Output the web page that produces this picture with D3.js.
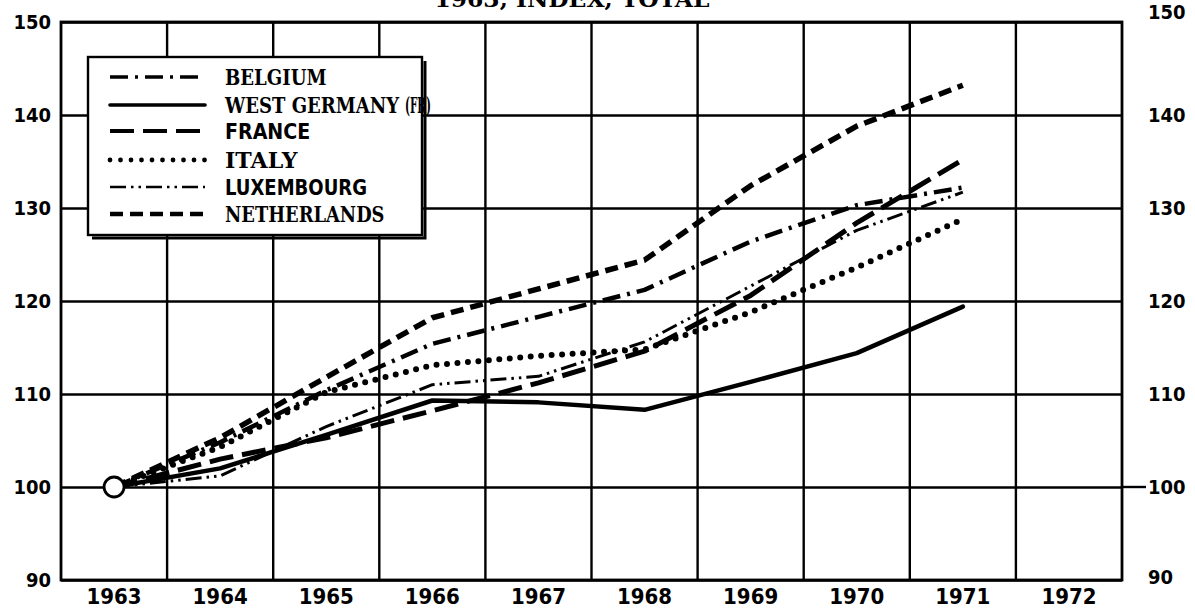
<!DOCTYPE html>
<html>
<head>
<meta charset="utf-8">
<script src="https://cdn.jsdelivr.net/npm/d3@7"></script>
<style>
    body { margin: 0; background: #fff; }
    svg { display: block; }
</style>
</head>
<body>
<svg id="chart" width="1195" height="611"></svg>
<script>
    // columns of the grid (one per year) and the years that carry data
    var years = [1963, 1964, 1965, 1966, 1967, 1968, 1969, 1970, 1971, 1972];
    var dataYears = [1963, 1964, 1965, 1966, 1967, 1968, 1969, 1970, 1971];

    // index values, 1963 = 100
    var belgium     = [100, 104.8, 110.4, 115.4, 118.3, 121.2, 126.4, 130.3, 132.2];
    var westGermany = [100, 102.0, 105.6, 109.3, 109.1, 108.3, 111.3, 114.4, 119.4];
    var france      = [100, 103.0, 105.3, 108.2, 111.2, 114.6, 120.6, 128.4, 135.2];
    var italy       = [100, 104.3, 110.2, 113.1, 114.1, 114.8, 118.8, 123.6, 128.8];
    var luxembourg  = [100, 101.2, 106.5, 111.0, 111.9, 115.6, 121.6, 127.6, 131.7];
    var netherlands = [100, 105.3, 111.8, 118.2, 121.3, 124.4, 132.4, 138.8, 143.2];

    var yTicks = [90, 100, 110, 120, 130, 140, 150];
    var titleText = '1963, INDEX, TOTAL';

(function() {
    'use strict';

    var series = [
        { name: 'BELGIUM', values: belgium, width: 4.5, dash: '18,7,3,7', cap: 'butt', font: 'serif' },
        { name: 'WEST GERMANY', extra: '(FR)', values: westGermany, width: 4.5, dash: null, cap: 'round', font: 'serif' },
        { name: 'FRANCE', values: france, width: 5, dash: '24,9', cap: 'butt', font: 'sans' },
        { name: 'ITALY', values: italy, width: 6, dash: '0,10.5', cap: 'round', font: 'serif' },
        { name: 'LUXEMBOURG', values: luxembourg, width: 3, dash: '16,5,2.5,5,2.5,5', cap: 'butt', font: 'sans' },
        { name: 'NETHERLANDS', values: netherlands, width: 5.5, dash: '13,7', cap: 'butt', font: 'serif' }
    ];

    var svg = d3.select('#chart');
    var plotLeft = 61, plotRight = 1122, plotTop = 22, plotBottom = 580;
    var labelFont = 'DejaVu Sans Condensed';

    var x = d3.scaleBand().domain(years).range([plotLeft, plotRight]).padding(0);
    var y = d3.scaleLinear().domain([90, 150]).range([plotBottom, plotTop]);
    var cx = function(yr) { return x(yr) + x.bandwidth() / 2; };

    // title, mostly cut off at the top of the scan
    svg.append('text')
        .attr('x', 572).attr('y', 7)
        .attr('text-anchor', 'middle')
        .attr('textLength', 275).attr('lengthAdjust', 'spacingAndGlyphs')
        .style('font-family', 'DejaVu Serif')
        .style('font-weight', 'bold')
        .style('font-size', '23px')
        .text(titleText);

    // horizontal grid + left labels
    var yAxis = d3.axisLeft(y).tickValues(yTicks).tickSize(-(plotRight - plotLeft)).tickPadding(10);
    var gy = svg.append('g').attr('transform', 'translate(' + plotLeft + ',0)').call(yAxis);
    gy.select('.domain').remove();
    gy.selectAll('line').attr('stroke', '#000').attr('stroke-width', 2.4);
    gy.selectAll('text')
        .style('font-family', labelFont)
        .style('font-weight', 'bold')
        .style('font-size', '20px')
        .attr('fill', '#000');

    // right labels
    var yAxisR = d3.axisRight(y).tickValues(yTicks).tickSize(0).tickPadding(26);
    var gyr = svg.append('g').attr('transform', 'translate(' + plotRight + ',0)').call(yAxisR);
    gyr.select('.domain').remove();
    gyr.selectAll('text')
        .style('font-family', labelFont)
        .style('font-weight', 'bold')
        .style('font-size', '20px')
        .attr('fill', '#000')
        .attr('dy', function(d) { return d === 150 ? '-0.2em' : d === 90 ? '0.15em' : '0.32em'; });
    // the 100 line runs out to its right label
    svg.append('line')
        .attr('x1', plotRight).attr('x2', plotRight + 24)
        .attr('y1', y(100)).attr('y2', y(100))
        .attr('stroke', '#000').attr('stroke-width', 2.4);

    // vertical grid at the column boundaries
    svg.append('g').selectAll('line')
        .data(years.slice(1))
        .enter().append('line')
        .attr('x1', function(d) { return x(d); })
        .attr('x2', function(d) { return x(d); })
        .attr('y1', plotTop).attr('y2', plotBottom)
        .attr('stroke', '#000').attr('stroke-width', 2.4);

    // frame
    svg.append('rect')
        .attr('x', plotLeft).attr('y', plotTop)
        .attr('width', plotRight - plotLeft).attr('height', plotBottom - plotTop)
        .attr('fill', 'none').attr('stroke', '#000').attr('stroke-width', 2.8);

    // year labels in the middle of each column
    var xAxis = d3.axisBottom(x).tickSize(0).tickPadding(8);
    var gx = svg.append('g').attr('transform', 'translate(0,' + plotBottom + ')').call(xAxis);
    gx.select('.domain').remove();
    gx.selectAll('text')
        .style('font-family', labelFont)
        .style('font-weight', 'bold')
        .style('font-size', '22px')
        .attr('fill', '#000');

    // data lines
    var line = d3.line()
        .x(function(d, i) { return cx(dataYears[i]); })
        .y(function(d) { return y(d); })
        .curve(d3.curveLinear);

    var lines = svg.append('g').attr('fill', 'none').attr('stroke', '#000');
    series.forEach(function(s) {
        lines.append('path')
            .attr('d', line(s.values))
            .attr('stroke-width', s.width)
            .attr('stroke-dasharray', s.dash)
            .attr('stroke-linecap', s.cap)
            .attr('stroke-linejoin', 'round');
    });

    // base point 1963 = 100
    svg.append('circle')
        .attr('cx', cx(1963)).attr('cy', y(100)).attr('r', 10)
        .attr('fill', '#fff').attr('stroke', '#000').attr('stroke-width', 2.8);

    // legend
    var lg = svg.append('g');
    lg.append('path')
        .attr('d', 'M92,238 L425,238 L425,61')
        .attr('fill', 'none').attr('stroke', '#000').attr('stroke-width', 3);
    lg.append('rect')
        .attr('x', 88).attr('y', 57).attr('width', 334).attr('height', 178)
        .attr('fill', '#fff').attr('stroke', '#000').attr('stroke-width', 2.4);

    var rowY = [77, 105, 131, 160, 187, 214];
    series.forEach(function(s, i) {
        lg.append('line')
            .attr('x1', 110).attr('x2', 205)
            .attr('y1', rowY[i]).attr('y2', rowY[i])
            .attr('stroke', '#000')
            .attr('stroke-width', s.width * 0.8)
            .attr('stroke-dasharray', s.dash)
            .attr('stroke-linecap', s.cap);
        var t = lg.append('text')
            .attr('x', 225).attr('y', rowY[i] + 8)
            .attr('fill', '#000')
            .text(s.name);
        if (s.font === 'serif') {
            t.style('font-family', 'DejaVu Serif').style('font-weight', '600').style('font-size', '22px')
                .attr('textLength', s.name.length * 14.5).attr('lengthAdjust', 'spacingAndGlyphs');
        } else {
            t.style('font-family', labelFont).style('font-weight', 'bold').style('font-size', '22px')
                .attr('textLength', s.name.length * 14.2).attr('lengthAdjust', 'spacingAndGlyphs');
        }
        if (s.extra) {
            lg.append('text')
                .attr('x', 405).attr('y', rowY[i] + 8)
                .attr('textLength', 26).attr('lengthAdjust', 'spacingAndGlyphs')
                .style('font-family', 'DejaVu Serif').style('font-weight', '600').style('font-size', '22px')
                .text(s.extra);
        }
    });
})();
</script>
</body>
</html>
